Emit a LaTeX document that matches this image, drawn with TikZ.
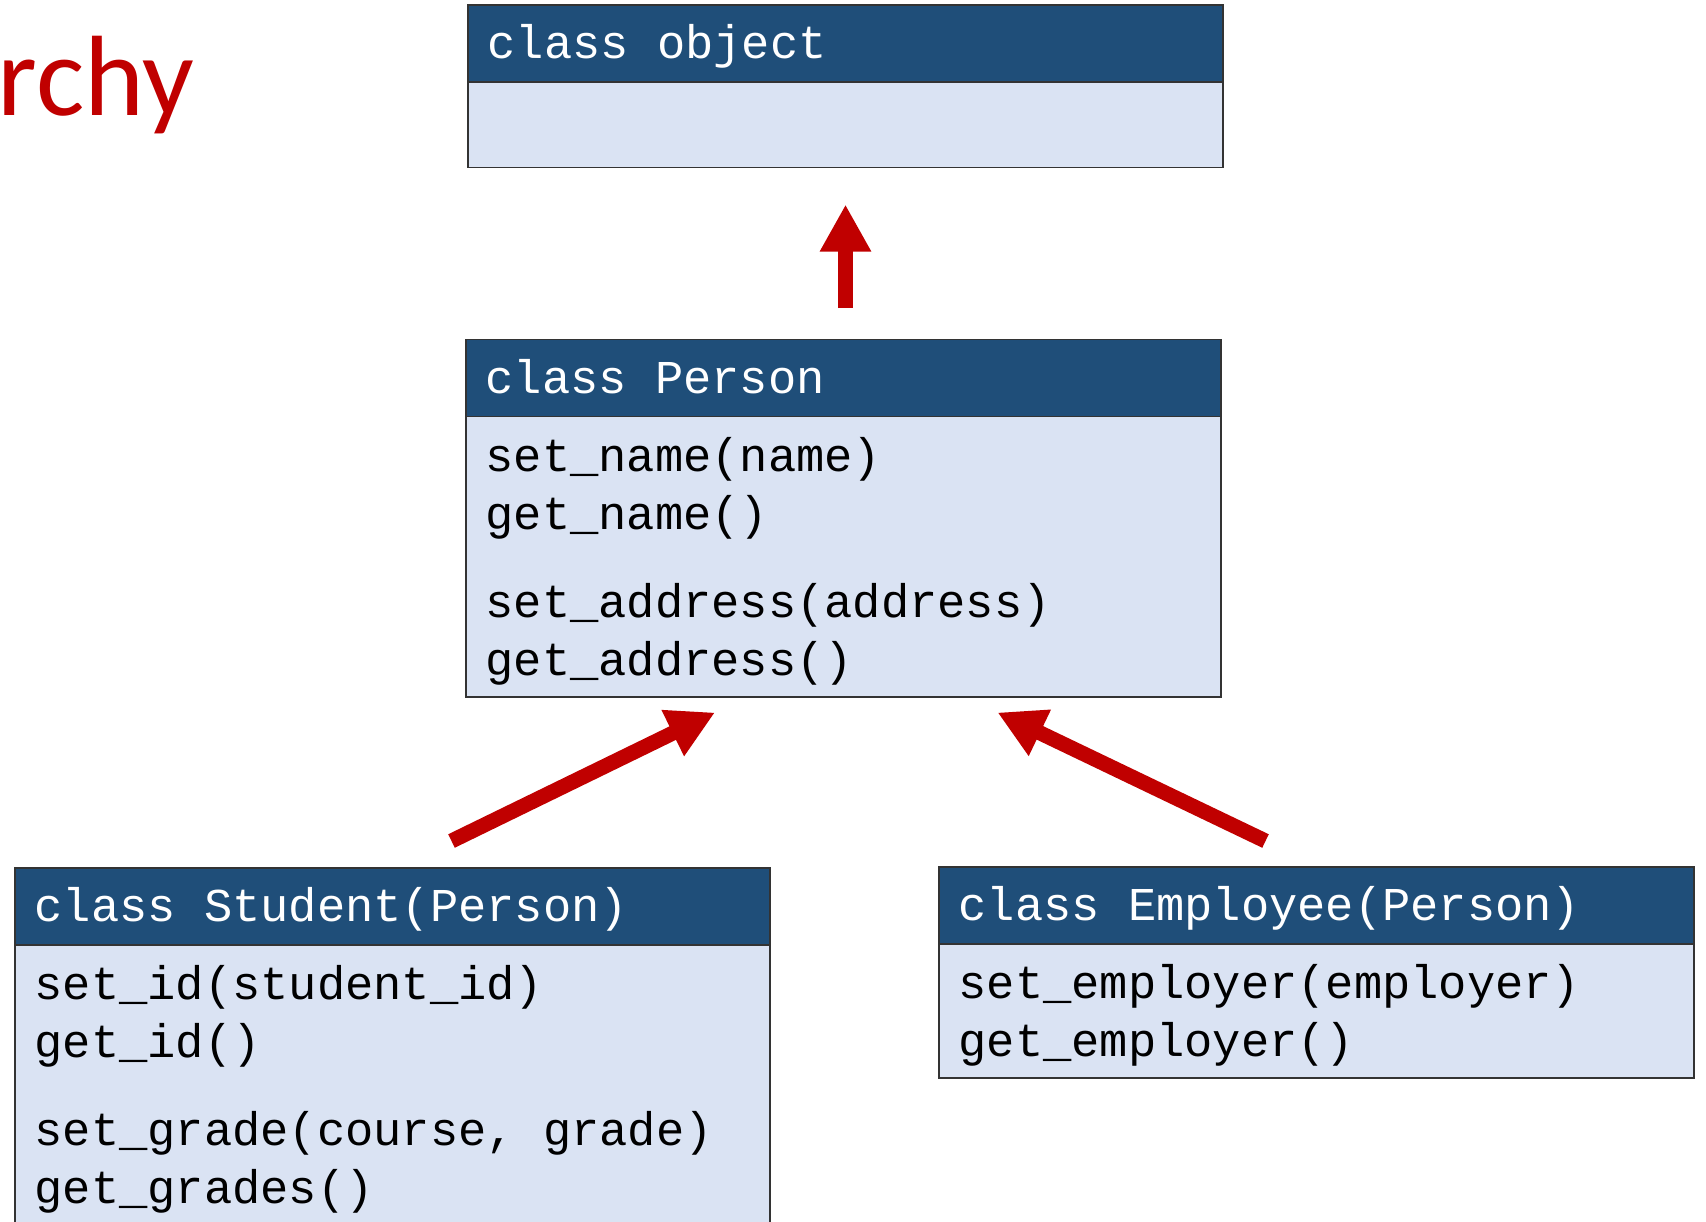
\documentclass[tikz,border=0pt]{standalone}
\usepackage{fontspec}
\setmonofont{Liberation Mono}
\newfontfamily\titlefont{Carlito}
\usetikzlibrary{arrows.meta,positioning}
\definecolor{headblue}{HTML}{1F4E79}
\definecolor{bodyblue}{HTML}{DAE3F3}
\definecolor{arrowred}{HTML}{C00000}
\newcommand\classfont{\ttfamily\fontsize{26.8}{33}\selectfont}
\begin{document}
\begin{tikzpicture}[head node/.style={rectangle,draw=black!80,line width=0.8pt,fill=headblue,text=white,anchor=north west,outer sep=0pt,text width=14.32cm,inner xsep=0.39cm,inner ysep=0pt,minimum height=1.54cm,align=left,text height=22pt,text depth=4.6pt,font=\classfont,
        execute at begin node={\spaceskip=0.6em\xspaceskip=0.6em\relax}},
    body node/.style={rectangle,draw=black!80,line width=0.8pt,fill=bodyblue,text=black,outer sep=0pt,text width=14.32cm,inner xsep=0.39cm,inner ysep=0pt,align=left,font=\classfont,
        execute at begin node={\spaceskip=0.6em\xspaceskip=0.6em\relax\rule{0pt}{24.8pt}}},
    parent arrow/.style={color=arrowred,line width=0.3cm,-{Triangle[width=0.96cm,length=0.94cm]}}]
        \useasboundingbox (0,0) rectangle (34.12,-24.42);
        \clip (0,0) rectangle (34.12,-24.42);

        \node[anchor=base west,inner sep=0pt,text=arrowred,font=\titlefont\fontsize{65}{70}\selectfont] at (-0.05,-2.3) (title) {rchy};

        \node[head node] at (9.36, -0.10) (objhead) {class object};
        \node[body node, below=0pt of objhead, minimum height=1.71cm] (objbody) {};

        \node[head node] at (9.32, -6.79) (perhead) {class Person};
        \node[body node, below=0pt of perhead, minimum height=5.61cm] (perbody)
            {set\_name(name)\\get\_name()\\[17pt]set\_address(address)\\get\_address()};

        \node[head node] at (0.30, -17.36) (stuhead) {class Student(Person)};
        \node[body node, below=0pt of stuhead, minimum height=5.6cm] (stubody)
            {set\_id(student\_id)\\get\_id()\\[17pt]set\_grade(course, grade)\\get\_grades()};

        \node[head node] at (18.78, -17.34) (emphead) {class Employee(Person)};
        \node[body node, below=0pt of emphead, minimum height=2.68cm] (empbody)
            {set\_employer(employer)\\get\_employer()};

        \coordinate (uptail) at (16.91, -6.16);
        \coordinate (uptip) at (16.91, -4.09);
        \coordinate (stutail) at (9.03, -16.82);
        \coordinate (stutip) at (14.30, -14.25);
        \coordinate (emptail) at (25.31, -16.82);
        \coordinate (emptip) at (19.95, -14.25);

        \path
            (uptail) edge[parent arrow] (uptip)
            (stutail) edge[parent arrow] (stutip)
            (emptail) edge[parent arrow] (emptip)
            ;
    \end{tikzpicture}
\end{document}
